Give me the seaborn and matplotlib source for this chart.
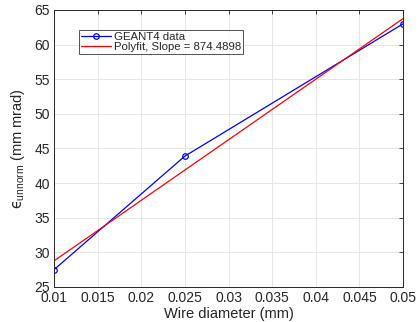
import numpy as np
import pandas as pd
import matplotlib
matplotlib.use("Agg")
import matplotlib.pyplot as plt
import seaborn as sns

# Data
wire_diameter = [0.01, 0.025, 0.05]
emittance = [27.5, 43.9, 63.0]
fit_x = [0.01, 0.05]
fit_y = [28.77, 63.75]
slope_label = "Polyfit, Slope = 874.4898"

x_ticks = [0.01, 0.015, 0.02, 0.025, 0.03, 0.035, 0.04, 0.045, 0.05]
x_tick_labels = ["0.01", "0.015", "0.02", "0.025", "0.03", "0.035", "0.04", "0.045", "0.05"]
y_ticks = [25, 30, 35, 40, 45, 50, 55, 60, 65]

sns.set_theme(style="whitegrid")
plt.rcParams["font.family"] = ["Liberation Sans", "DejaVu Sans"]
plt.rcParams["mathtext.fontset"] = "custom"
plt.rcParams["mathtext.rm"] = "Liberation Sans"
plt.rcParams["mathtext.it"] = "DejaVu Sans"

fig = plt.figure(figsize=(4.19, 3.22), dpi=100)
ax = fig.add_axes([54/419, 1 - 287/322, (403-54)/419, (287-10)/322])

df = pd.DataFrame({"x": wire_diameter, "y": emittance})
dfit = pd.DataFrame({"x": fit_x, "y": fit_y})

sns.lineplot(data=df, x="x", y="y", ax=ax, color="#0000ff", linewidth=0.9,
             marker="o", markersize=4, markerfacecolor="none",
             markeredgecolor="#0000ff", markeredgewidth=0.9, label="GEANT4 data")
sns.lineplot(data=dfit, x="x", y="y", ax=ax, color="#ff0000", linewidth=0.9,
             label=slope_label)

ax.set_xlim(0.01, 0.05)
ax.set_ylim(25, 65)
ax.set_xticks(x_ticks)
ax.set_xticklabels(x_tick_labels)
ax.set_yticks(y_ticks)
ax.set_facecolor("white")
ax.grid(True, color="#e6e6e6", linewidth=0.7)
for s in ax.spines.values():
    s.set_color("#262626")
    s.set_linewidth(0.7)
ax.tick_params(direction="in", length=3, width=0.6, colors="#262626",
               labelsize=10, top=True, right=True, labelcolor="#262626", pad=3)
ax.set_xlabel("Wire diameter (mm)", fontsize=10.5, color="#262626", labelpad=1)
ax.set_ylabel("$\u03f5_{\\rm unnorm}$ (mm mrad)", fontsize=10.5, color="#262626", labelpad=5)

leg = ax.legend(loc="upper left", bbox_to_anchor=(0.072, 0.928), fontsize=8.2,
                frameon=True, fancybox=False, edgecolor="#262626",
                borderpad=0.2, labelspacing=0.0, handlelength=2.6,
                handletextpad=0.25, borderaxespad=0)
leg.get_frame().set_linewidth(0.7)

fig.savefig("out.png", dpi=100)
